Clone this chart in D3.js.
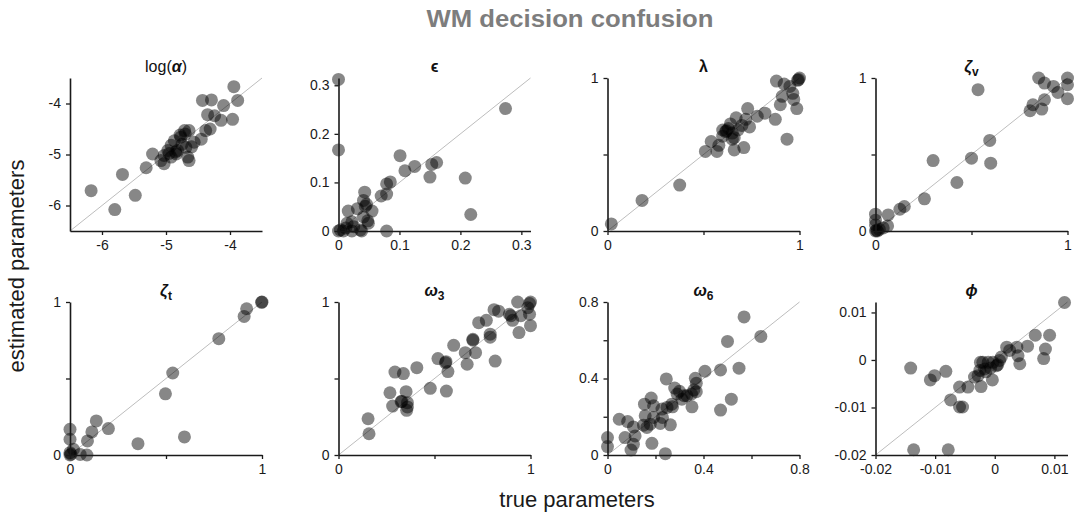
<!DOCTYPE html>
<html><head><meta charset="utf-8">
<script src="https://cdn.jsdelivr.net/npm/d3@7"></script>
<style>
body{margin:0;background:#fff}
text{font-family:"Liberation Sans",Arial,Helvetica,sans-serif}
</style>
</head><body>
<svg id="chart" width="1075" height="518"></svg>
<script>
// ---------- data (true vs estimated) ----------
const alphaTrue = [-3.94,-4.43,-4.29,-3.88,-4.10,-4.35,-4.24,-4.14,-3.96,-4.31,-4.38,-4.71,-4.64,-4.77,-4.56,-4.69,-4.87,-4.92,-4.82,-4.97,-5.03,-4.92,-4.84,-4.66,-4.64,-5.08,-5.03,-5.21,-5.31,-5.68,-6.17,-5.48,-5.80,-4.75,-4.85,-4.70,-4.95,-4.60,-4.45,-4.78];
const alphaEst  = [-3.67,-3.94,-3.93,-3.94,-4.04,-4.22,-4.24,-4.33,-4.31,-4.50,-4.53,-4.53,-4.53,-4.66,-4.76,-4.86,-4.73,-4.82,-4.92,-4.92,-5.02,-5.05,-4.99,-5.05,-5.12,-5.12,-5.18,-4.99,-5.26,-5.39,-5.71,-5.80,-6.08,-4.80,-4.95,-4.60,-4.98,-4.85,-4.70,-4.62];

const epsTrue = [0,0,0.274,0.101,0.109,0.125,0.153,0.161,0.150,0.208,0.217,0.079,0.085,0.079,0.070,0.043,0.041,0.044,0.031,0.055,0.041,0.048,0.049,0.016,0.014,0.022,0.079,0.038,0.022,0.008,0,0.003,0.025,0.036,0.046,0.012];
const epsEst  = [0.312,0.167,0.252,0.155,0.124,0.133,0.137,0.141,0.111,0.109,0.034,0.097,0.101,0.076,0.072,0.080,0.063,0.051,0.046,0.041,0.029,0.021,0.016,0.041,0.016,0.019,0,0,0,0,0,0.002,0.009,0.002,0.055,0.006];

const lambdaTrue = [0.02,0.18,0.376,0.51,0.57,0.54,0.58,0.60,0.615,0.60,0.65,0.66,0.71,0.66,0.68,0.67,0.70,0.74,0.72,0.73,0.78,0.82,0.63,0.65,0.874,0.88,0.92,0.90,0.91,0.965,0.97,0.986,0.935,0.95,1.0,0.995,0.99,0.62,0.64];
const lambdaEst  = [0.046,0.20,0.30,0.52,0.52,0.585,0.56,0.62,0.65,0.66,0.60,0.53,0.545,0.61,0.66,0.74,0.69,0.68,0.73,0.80,0.75,0.77,0.67,0.64,0.73,0.98,0.96,0.825,0.88,0.90,0.86,0.80,0.60,0.945,1.0,0.99,0.985,0.655,0.70];

const zetaVTrue = [0.534,0.85,0.88,0.927,0.95,1.0,1.0,1.0,0.88,0.866,0.82,0.805,0.595,0.5,0.30,0.60,0.424,0.255,0.15,0.127,0.066,0.063,0,0,0,0,0.02,0.04,0.01,0.005];
const zetaVEst  = [0.924,1.0,0.967,0.945,0.906,1.0,0.956,0.865,0.858,0.797,0.825,0.786,0.592,0.476,0.46,0.443,0.317,0.21,0.16,0.142,0.105,0.033,0.11,0.07,0.04,0,0.01,0.02,0,0.005];

const zetaTTrue = [1.0,0.998,0.92,0.907,0.775,0.535,0.497,0.596,0.354,0.20,0.137,0.114,0.091,0,0,0,0,0.053,0.088,0.018,0.005];
const zetaTEst  = [1.0,0.998,0.956,0.906,0.76,0.536,0.40,0.118,0.074,0.173,0.223,0.151,0.092,0.168,0.103,0.015,0,0.004,0,0.037,0.005];

const omega3True = [1.0,0.995,0.933,0.986,0.995,0.95,0.898,0.907,0.89,1.0,0.94,0.81,0.834,0.77,0.73,0.79,0.79,0.816,0.70,0.714,0.66,0.67,0.60,0.57,0.557,0.518,0.562,0.478,0.408,0.338,0.294,0.352,0.268,0.326,0.359,0.282,0.359,0.355,0.154,0.159,0.70,0.56,0.33];
const omega3Est  = [1.0,0.99,1.0,0.963,0.92,0.91,0.91,0.88,0.92,0.845,0.80,0.95,0.94,0.88,0.865,0.79,0.77,0.614,0.756,0.669,0.669,0.593,0.717,0.545,0.603,0.63,0.418,0.436,0.571,0.532,0.542,0.414,0.407,0.349,0.342,0.32,0.314,0.292,0.237,0.139,0.75,0.61,0.35];

const omega6True = [0.569,0.639,0.50,0.548,0.471,0.406,0.516,0.471,0.366,0.37,0.37,0.35,0.331,0.31,0.29,0.28,0.30,0.268,0.271,0.248,0.245,0.352,0.227,0.262,0.22,0.229,0.192,0.182,0.154,0.157,0.192,0.178,0.164,0.15,0.185,0.241,0.108,0.084,0.049,0.073,0.108,0.098,0,0,0.115,0.36,0.32];
const omega6Est  = [0.722,0.62,0.594,0.454,0.445,0.438,0.292,0.235,0.401,0.375,0.331,0.319,0.31,0.292,0.319,0.35,0.333,0.266,0.252,0.249,0.398,0.252,0.24,0.158,0.165,0.196,0.257,0.298,0.266,0.205,0.196,0.161,0.144,0.156,0.061,0.007,0.147,0.175,0.187,0.091,0.056,0.026,0.091,0.044,0.10,0.34,0.31];

const phiTrue = [0.0117,0.0068,0.0092,0.0085,0.0082,0.0055,0.0037,0.002,0.0039,0.0042,0.0025,0.0011,0.0008,0.0003,-0.0003,-0.0007,-0.0011,-0.0017,-0.002,-0.0024,-0.0025,-0.0028,-0.0034,-0.0004,-0.0023,-0.0045,-0.0059,-0.0074,-0.0059,-0.0054,-0.0141,-0.0108,-0.0101,-0.0082,-0.0136,-0.0078,-0.0015,0.0005];
const phiEst  = [0.0121,0.0052,0.0052,0.0023,0.0003,0.0029,0.0027,0.0027,0.0009,-0.0008,0.002,0.0006,-0.0001,-0.0012,-0.0005,-0.0017,-0.0005,-0.0019,-0.0005,-0.0005,-0.0022,-0.0033,-0.0036,-0.0042,-0.0056,-0.0057,-0.0057,-0.0084,-0.0099,-0.0099,-0.0017,-0.0042,-0.0033,-0.0024,-0.0189,-0.0189,-0.0025,-0.001];

// ---------- tick values / labels ----------
const ticksAlpha = [-6,-5,-4],            labelsAlpha = ["-6","-5","-4"];
const ticksEps   = [0,0.1,0.2,0.3],       labelsEps   = ["0","0.1","0.2","0.3"];
const ticksUnit  = [0,0.5,1],             labelsUnit  = ["0","","1"];
const ticksW6    = [0,0.2,0.4,0.6,0.8],   labelsW6    = ["0","","0.4","","0.8"];
const ticksPhi   = [-0.02,-0.01,0,0.01],  labelsPhi   = ["-0.02","-0.01","0","0.01"];

const domains = {
  alpha:[-6.5,-3.5], eps:[0,0.315], unit:[0,1], w6:[0,0.8], phi:[-0.02,0.0122]
};

// ---------- panel definitions ----------
const panels = [
  {title:[["log(",false],["α",true],[")",false]], sub:null, xs:alphaTrue, ys:alphaEst, dom:domains.alpha, ticks:ticksAlpha, labels:labelsAlpha},
  {title:[["ϵ",true]], sub:null, xs:epsTrue, ys:epsEst, dom:domains.eps, ticks:ticksEps, labels:labelsEps},
  {title:[["λ",true]], sub:null, xs:lambdaTrue, ys:lambdaEst, dom:domains.unit, ticks:ticksUnit, labels:labelsUnit},
  {title:[["ζ",true]], sub:"v", xs:zetaVTrue, ys:zetaVEst, dom:domains.unit, ticks:ticksUnit, labels:labelsUnit},
  {title:[["ζ",true]], sub:"t", xs:zetaTTrue, ys:zetaTEst, dom:domains.unit, ticks:ticksUnit, labels:labelsUnit},
  {title:[["ω",true]], sub:"3", xs:omega3True, ys:omega3Est, dom:domains.unit, ticks:ticksUnit, labels:labelsUnit},
  {title:[["ω",true]], sub:"6", xs:omega6True, ys:omega6Est, dom:domains.w6, ticks:ticksW6, labels:labelsW6},
  {title:[["ϕ",true]], sub:null, xs:phiTrue, ys:phiEst, dom:domains.phi, ticks:ticksPhi, labels:labelsPhi}
];

// ---------- layout ----------
const colX = [70, 338.5, 607.5, 875.5];
const rowY = [78, 302];
const pw = 192, ph = 153;

const svg = d3.select("#chart");

svg.append("text").attr("x",570).attr("y",27).attr("text-anchor","middle")
  .attr("font-size",23).attr("font-weight","bold").attr("fill","#7d7d7d")
  .attr("textLength",287).attr("lengthAdjust","spacingAndGlyphs")
  .text("WM decision confusion");

svg.append("text").attr("transform","translate(24,266) rotate(-90)")
  .attr("text-anchor","middle").attr("font-size",22).attr("fill","#1a1a1a")
  .text("estimated parameters");

svg.append("text").attr("x",577).attr("y",507).attr("text-anchor","middle")
  .attr("font-size",22).attr("fill","#1a1a1a").text("true parameters");

panels.forEach((p,i)=>{
  const r = Math.floor(i/4), c = i%4;
  const g = svg.append("g").attr("transform",`translate(${colX[c]},${rowY[r]})`);
  const x = d3.scaleLinear().domain(p.dom).range([0,pw]);
  const y = d3.scaleLinear().domain(p.dom).range([ph,0]);

  // identity line
  g.append("line")
    .attr("x1",x(p.dom[0])).attr("y1",y(p.dom[0]))
    .attr("x2",x(p.dom[1])).attr("y2",y(p.dom[1]))
    .attr("stroke","#bdbdbd").attr("stroke-width",1);

  // points
  g.selectAll("circle").data(p.xs.map((v,k)=>[v,p.ys[k]])).enter().append("circle")
    .attr("cx",d=>x(d[0])).attr("cy",d=>y(d[1])).attr("r",6.5)
    .attr("fill","#000").attr("fill-opacity",0.47);

  const fmt = d => p.labels[p.ticks.indexOf(d)];
  const xa = g.append("g").attr("transform",`translate(0,${ph})`)
    .call(d3.axisBottom(x).tickValues(p.ticks).tickFormat(fmt).tickSize(4).tickSizeOuter(0).tickPadding(5));
  const ya = g.append("g")
    .call(d3.axisLeft(y).tickValues(p.ticks).tickFormat(fmt).tickSize(4).tickSizeOuter(0).tickPadding(5));
  [xa,ya].forEach(a=>{
    a.select(".domain").attr("stroke","#1a1a1a").attr("stroke-width",1.6);
    a.selectAll(".tick line").attr("stroke","#1a1a1a").attr("stroke-width",1.3);
    a.selectAll(".tick text").attr("font-size",14).attr("fill","#1a1a1a")
      .attr("font-family",'"Liberation Sans",Arial,sans-serif');
  });

  // title
  const t = g.append("text").attr("x",pw/2).attr("y",-6).attr("text-anchor","middle")
    .attr("font-size",16).attr("fill","#111");
  p.title.forEach(([s,b])=>{
    t.append("tspan").attr("font-weight",b?"bold":"normal")
      .attr("font-style", b && s!=="log(" && s!=="λ" && s!=="ϵ" ? "italic" : "normal").text(s);
  });
  if(p.sub){
    t.append("tspan").attr("font-size",12).attr("font-weight","bold").attr("dy",4).text(p.sub);
  }
});
</script>
</body></html>
